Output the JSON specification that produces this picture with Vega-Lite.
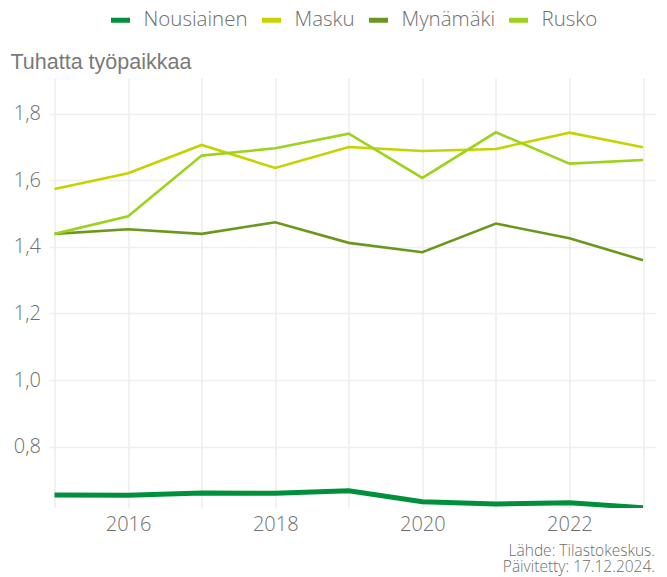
{
  "$schema": "https://vega.github.io/schema/vega-lite/v6.json",
  "autosize": "none",
  "width": 606.5,
  "height": 430,
  "padding": {"left": 48.5, "top": 78, "right": 12, "bottom": 69},
  "background": "white",
  "config": {
    "view": {"stroke": null},
    "font": "Open Sans",
    "axis": {"labelFont": "Open Sans", "labelFontWeight": 300, "labelColor": "#6e6e6e", "labelFontSize": 20, "gridColor": "#efefef", "gridWidth": 1.5, "domain": false, "ticks": false},
    "legend": {"labelFont": "Open Sans", "labelFontWeight": 300, "labelColor": "#6e6e6e", "labelFontSize": 20.5}
  },
  "title": {
    "text": ["Lähde: Tilastokeskus.", "Päivitetty: 17.12.2024."],
    "orient": "bottom",
    "anchor": "end",
    "frame": "group",
    "font": "Open Sans",
    "fontWeight": 300,
    "fontSize": 15.5,
    "color": "#6e6e6e",
    "lineHeight": 15.5,
    "offset": 10
  },
  "data": {
    "values": [
      {"vuosi": 2015, "kunta": "Nousiainen", "arvo": 0.655},
      {"vuosi": 2016, "kunta": "Nousiainen", "arvo": 0.654},
      {"vuosi": 2017, "kunta": "Nousiainen", "arvo": 0.661},
      {"vuosi": 2018, "kunta": "Nousiainen", "arvo": 0.660},
      {"vuosi": 2019, "kunta": "Nousiainen", "arvo": 0.668},
      {"vuosi": 2020, "kunta": "Nousiainen", "arvo": 0.635},
      {"vuosi": 2021, "kunta": "Nousiainen", "arvo": 0.628},
      {"vuosi": 2022, "kunta": "Nousiainen", "arvo": 0.632},
      {"vuosi": 2023, "kunta": "Nousiainen", "arvo": 0.617},
      {"vuosi": 2015, "kunta": "Masku", "arvo": 1.574},
      {"vuosi": 2016, "kunta": "Masku", "arvo": 1.621},
      {"vuosi": 2017, "kunta": "Masku", "arvo": 1.706},
      {"vuosi": 2018, "kunta": "Masku", "arvo": 1.637},
      {"vuosi": 2019, "kunta": "Masku", "arvo": 1.700},
      {"vuosi": 2020, "kunta": "Masku", "arvo": 1.688},
      {"vuosi": 2021, "kunta": "Masku", "arvo": 1.694},
      {"vuosi": 2022, "kunta": "Masku", "arvo": 1.743},
      {"vuosi": 2023, "kunta": "Masku", "arvo": 1.699},
      {"vuosi": 2015, "kunta": "Mynämäki", "arvo": 1.439},
      {"vuosi": 2016, "kunta": "Mynämäki", "arvo": 1.453},
      {"vuosi": 2017, "kunta": "Mynämäki", "arvo": 1.439},
      {"vuosi": 2018, "kunta": "Mynämäki", "arvo": 1.474},
      {"vuosi": 2019, "kunta": "Mynämäki", "arvo": 1.412},
      {"vuosi": 2020, "kunta": "Mynämäki", "arvo": 1.384},
      {"vuosi": 2021, "kunta": "Mynämäki", "arvo": 1.470},
      {"vuosi": 2022, "kunta": "Mynämäki", "arvo": 1.426},
      {"vuosi": 2023, "kunta": "Mynämäki", "arvo": 1.360},
      {"vuosi": 2015, "kunta": "Rusko", "arvo": 1.439},
      {"vuosi": 2016, "kunta": "Rusko", "arvo": 1.492},
      {"vuosi": 2017, "kunta": "Rusko", "arvo": 1.674},
      {"vuosi": 2018, "kunta": "Rusko", "arvo": 1.696},
      {"vuosi": 2019, "kunta": "Rusko", "arvo": 1.740},
      {"vuosi": 2020, "kunta": "Rusko", "arvo": 1.607},
      {"vuosi": 2021, "kunta": "Rusko", "arvo": 1.744},
      {"vuosi": 2022, "kunta": "Rusko", "arvo": 1.650},
      {"vuosi": 2023, "kunta": "Rusko", "arvo": 1.661}
    ]
  },
  "mark": {"type": "line", "clip": true},
  "encoding": {
    "x": {
      "field": "vuosi",
      "type": "quantitative",
      "scale": {"domain": [2014.918, 2023.163], "nice": false, "zero": false},
      "axis": {
        "title": null,
        "values": [2015, 2016, 2017, 2018, 2019, 2020, 2021, 2022, 2023],
        "labelExpr": "datum.value % 2 == 0 ? datum.value + '' : ''",
        "labelPadding": 6,
        "gridColor": "#ececec",
        "gridWidth": 1.5
      }
    },
    "y": {
      "field": "arvo",
      "type": "quantitative",
      "scale": {"domain": [0.616, 1.907], "nice": false, "zero": false},
      "axis": {
        "title": "Tuhatta työpaikkaa",
        "titleFont": "Liberation Sans",
        "titleFontWeight": "normal",
        "titleFontSize": 21.5,
        "titleColor": "#7a7a7a",
        "titleAngle": 0,
        "titleAlign": "left",
        "titleBaseline": "alphabetic",
        "titleX": -38.5,
        "titleY": -10,
        "values": [0.8, 1.0, 1.2, 1.4, 1.6, 1.8],
        "labelExpr": "replace(format(datum.value, '.1f'), '.', ',')",
        "labelPadding": 8
      }
    },
    "color": {
      "field": "kunta",
      "type": "nominal",
      "scale": {
        "domain": ["Nousiainen", "Masku", "Mynämäki", "Rusko"],
        "range": ["#008f3b", "#c5d300", "#6b981c", "#9dd21d"]
      },
      "legend": {
        "title": null,
        "orient": "none",
        "direction": "horizontal",
        "legendX": 60,
        "legendY": -70,
        "symbolType": "stroke",
        "symbolStrokeWidth": 5,
        "symbolSize": 361,
        "columnPadding": 3,
        "labelOffset": 11
      }
    },
    "strokeWidth": {
      "condition": {"test": "datum.kunta === 'Nousiainen'", "value": 5},
      "value": 2.6
    }
  }
}
